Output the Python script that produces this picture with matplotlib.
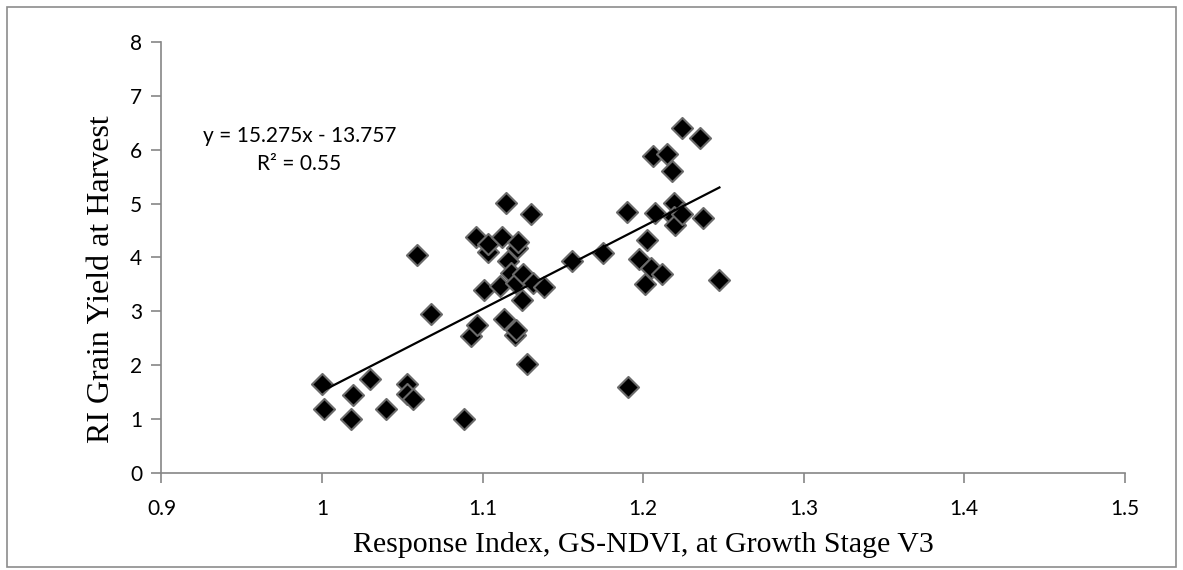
import matplotlib
matplotlib.use("Agg")
import matplotlib.pyplot as plt
from matplotlib.patches import Rectangle

# response index (GS-NDVI, V3) vs RI grain yield
ri_ndvi = [1.000, 1.001, 1.018, 1.0195, 1.030, 1.040, 1.053, 1.053, 1.057, 1.059,
           1.068, 1.0887, 1.0928, 1.0966, 1.0957, 1.1007, 1.1032, 1.1036, 1.111, 1.112,
           1.1136, 1.1144, 1.116, 1.118, 1.120, 1.121, 1.121, 1.1217, 1.122, 1.1244,
           1.1254, 1.1277, 1.130, 1.1317, 1.1385, 1.1558, 1.1753, 1.1898, 1.1908, 1.1977,
           1.2012, 1.2023, 1.2048, 1.2064, 1.2075, 1.2116, 1.2148, 1.2183, 1.219, 1.219,
           1.220, 1.224, 1.2245, 1.2355, 1.2376, 1.2476]
ri_yield = [1.645, 1.19, 1.00, 1.45, 1.74, 1.19, 1.66, 1.47, 1.37, 4.04,
            2.95, 1.00, 2.54, 2.75, 4.38, 3.40, 4.11, 4.25, 3.47, 4.38,
            2.85, 5.015, 3.93, 3.72, 2.57, 2.65, 3.53, 4.18, 4.28, 3.22,
            3.69, 2.02, 4.80, 3.53, 3.46, 3.93, 4.08, 4.84, 1.60, 3.98,
            3.50, 4.32, 3.81, 5.88, 4.83, 3.69, 5.93, 5.60, 5.02, 4.76,
            4.60, 4.81, 6.41, 6.22, 4.74, 3.58]

slope = 15.275
intercept = -13.757
r2 = 0.55

xticks = [0.9, 1, 1.1, 1.2, 1.3, 1.4, 1.5]
xticklabels = ["0.9", "1", "1.1", "1.2", "1.3", "1.4", "1.5"]
yticks = [0, 1, 2, 3, 4, 5, 6, 7, 8]

fig = plt.figure(figsize=(11.83, 5.70), dpi=100)
fig.patches.append(Rectangle((0.006, 0.006), 0.988, 0.982, transform=fig.transFigure,
                             fill=False, edgecolor="#8c8c8c", linewidth=1.2))
ax = fig.add_axes([0.1365, 0.1702, 0.8141, 0.7561])

ax.scatter(ri_ndvi, ri_yield, marker="D", s=115, facecolor="black",
           edgecolor="#6a6a6a", linewidth=1.5, zorder=3)

x0, x1 = min(ri_ndvi), max(ri_ndvi)
ax.plot([x0, x1], [slope * x0 + intercept, slope * x1 + intercept],
        color="black", linewidth=1.6, zorder=4)

ax.text(0.986, 5.99, "y = %.3fx - %.3f\nR² = %.2f" % (slope, -intercept, r2),
        ha="center", va="center", fontsize=15, family=["Lato", "DejaVu Sans"],
        linespacing=1.5)

ax.set_xlim(0.9, 1.5)
ax.set_ylim(0, 8)
ax.set_xticks(xticks)
ax.set_xticklabels(xticklabels)
ax.set_yticks(yticks)

for s in ["top", "right"]:
    ax.spines[s].set_visible(False)
for s in ["left", "bottom"]:
    ax.spines[s].set_color("#868686")
    ax.spines[s].set_linewidth(1.2)
ax.tick_params(axis="both", direction="out", length=7, width=1.2, color="#868686",
               labelsize=15)
ax.tick_params(axis="x", pad=12)
ax.tick_params(axis="y", pad=7)
for lab in ax.get_xticklabels() + ax.get_yticklabels():
    lab.set_family("Lato")

ax.set_xlabel("Response Index, GS-NDVI, at Growth Stage V3",
              family="Liberation Serif", fontsize=21.5, labelpad=9)
ax.set_ylabel("RI Grain Yield at Harvest", family="Liberation Serif",
              fontsize=23)
ax.yaxis.set_label_coords(-0.047, 0.45)

fig.savefig("out.png", dpi=100)
